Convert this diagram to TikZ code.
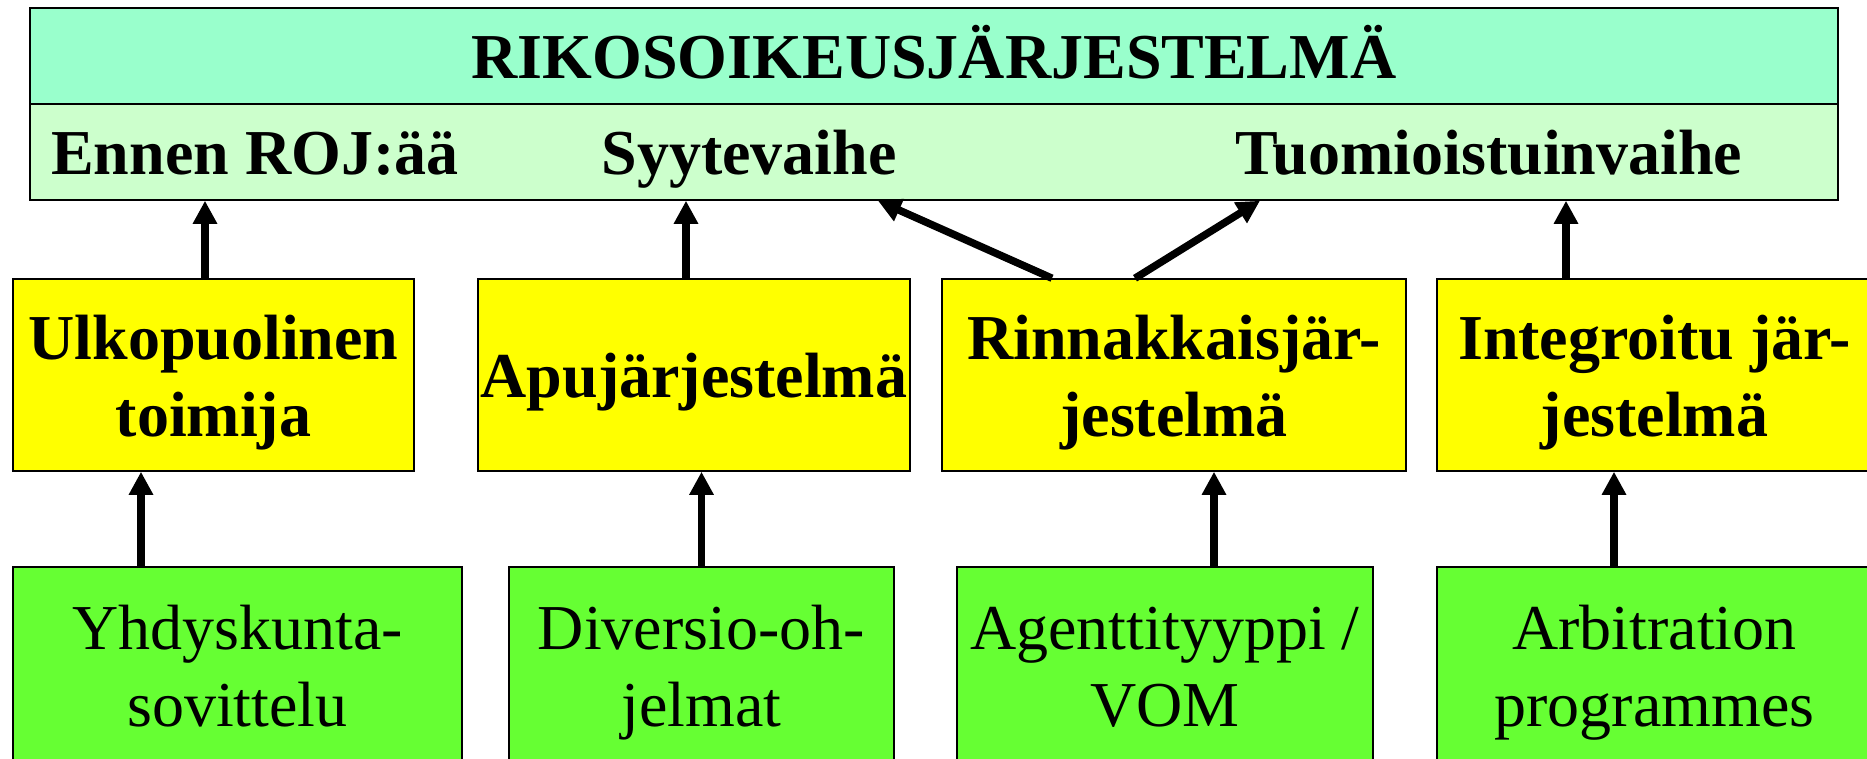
\documentclass[tikz,border=0pt]{standalone}
\usepackage{fontspec}
\setmainfont{Liberation Serif}
\usetikzlibrary{arrows.meta, positioning, calc}

\definecolor{headgreen}{HTML}{99FFCC}
\definecolor{phasegreen}{HTML}{CCFFCC}
\definecolor{sysyellow}{HTML}{FFFF00}
\definecolor{proggreen}{HTML}{66FF33}
\newcommand{\boldbig}{\fontsize{64}{77}\selectfont\bfseries}
\newcommand{\plainbig}{\fontsize{64}{77}\selectfont}

\begin{document}
\begin{tikzpicture}[
    x=1pt, y=-1pt,
    box/.style={rectangle, draw, line width=1.5pt, inner sep=0pt, align=center},
    header/.style={box, fill=headgreen, minimum width=1808pt, minimum height=96pt, font=\boldbig, text height=64pt, text depth=20pt},
    phase/.style={box, fill=phasegreen, minimum width=1808pt, minimum height=96pt},
    phasetext/.style={inner sep=0pt, font=\boldbig, text height=64pt, text depth=20pt},
    system/.style={box, fill=sysyellow, minimum height=192pt, font=\boldbig, text height=143pt, text depth=20pt},
    program/.style={box, fill=proggreen, minimum height=195pt, font=\plainbig, text height=143pt, text depth=20pt},
    arrow/.style={line width=7.5pt, -{Triangle[width=23pt,length=23pt]}}
]
    \useasboundingbox (0,0) rectangle (1867,758);

    % Header
    \node[header] (title) at (934,56) {RIKOSOIKEUSJÄRJESTELMÄ};
    \node[phase] (phases) at (934,152) {};
    \node[phasetext, anchor=west] (ennen) at (51,152) {Ennen ROJ:ää};
    \node[phasetext] (syyte) at (749,152) {Syytevaihe};
    \node[phasetext] (tuomio) at (1489,152) {Tuomioistuinvaihe};

    % Systems
    \node[system, minimum width=401pt] (ulko) at (213.5,375) {Ulkopuolinen\\toimija};
    \node[system, minimum width=432pt, text height=64pt, text depth=20pt] (apu) at (694,375) {Apujärjestelmä};
    \node[system, minimum width=464pt] (rinn) at (1174,375) {Rinnakkaisjär-\\jestelmä};
    \node[system, minimum width=435pt] (integ) at (1654.5,375) {Integroitu jär-\\jestelmä};

    % Programmes
    \node[program, minimum width=449pt] (yhd) at (237.5,664.5) {Yhdyskunta-\\sovittelu};
    \node[program, minimum width=385pt] (div) at (701.5,664.5) {Diversio-oh-\\jelmat};
    \node[program, minimum width=416pt] (agent) at (1165,664.5) {Agenttityyppi /\\VOM};
    \node[program, minimum width=435pt] (arb) at (1654.5,664.5) {Arbitration\\programmes};

    % Arrows
    \draw[arrow] ($(ulko.north)+(-8.5,0)$) -- ($(ulko.north |- phases.south)+(-8.5,0)$);
    \draw[arrow] ($(apu.north)+(-8,0)$) -- ($(apu.north |- phases.south)+(-8,0)$);
    \draw[arrow] ($(rinn.north)+(-122,0)$) -- ($(phases.south)+(-56,0)$);
    \draw[arrow] ($(rinn.north)+(-39,0)$) -- ($(phases.south)+(326,0)$);
    \draw[arrow] ($(integ.north)+(-88.5,0)$) -- ($(integ.north |- phases.south)+(-88.5,0)$);
    \draw[arrow] ($(yhd.north)+(-96.5,0)$) -- ($(yhd.north |- ulko.south)+(-96.5,0)$);
    \draw[arrow] (div.north) -- (div.north |- apu.south);
    \draw[arrow] ($(agent.north)+(49,0)$) -- ($(agent.north |- rinn.south)+(49,0)$);
    \draw[arrow] ($(arb.north)+(-40.5,0)$) -- ($(arb.north |- integ.south)+(-40.5,0)$);
\end{tikzpicture}
\end{document}
